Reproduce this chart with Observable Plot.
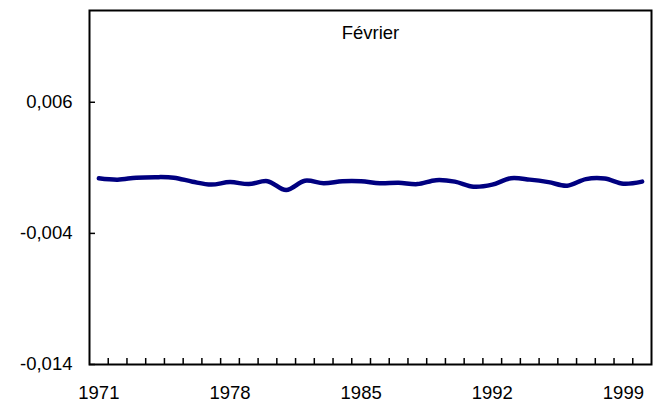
<!DOCTYPE html>
<html>
<head>
<meta charset="utf-8">
<script src="https://cdn.jsdelivr.net/npm/d3@7"></script>
<script src="https://cdn.jsdelivr.net/npm/@observablehq/plot@0.6"></script>
<style>
  html, body { margin: 0; padding: 0; background: #fff; }
  #chart svg { display: block; }
</style>
</head>
<body>
<div id="chart"></div>
<script>
// Monthly series for February, 1971–2000
const years = d3.range(1971, 2001);
const values = [
  0.00021, 0.00010, 0.00025, 0.00029, 0.00025, -0.00006, -0.00028, -0.00009, -0.00024, -0.00002,
  -0.00070, 0.00002, -0.00017, -0.00002, -0.00002, -0.00017, -0.00013, -0.00024, 0.00006, -0.00005,
  -0.00044, -0.00028, 0.00021, 0.00010, -0.00009, -0.00036, 0.00014, 0.00018, -0.00021, -0.00005
];
const yTicks = [-0.014, -0.004, 0.006];
const xTicks = [1971, 1978, 1985, 1992, 1999];
const title = ["Février"];

const data = years.map((year, i) => ({year, value: values[i]}));
// category boundaries between consecutive years
const boundaries = years.slice(1).map(y => y - 0.5);

const fr = d3.formatLocale({decimal: ",", thousands: " ", grouping: [3], currency: ["", " €"], minus: "-"});
const fmt = fr.format(".3f");

const width = 662, height = 413;
const margin = {top: 10, right: 11, bottom: 49, left: 89};
const innerW = width - margin.left - margin.right;
const innerH = height - margin.top - margin.bottom;

const chart = Plot.plot({
  width, height,
  marginTop: margin.top, marginRight: margin.right,
  marginBottom: margin.bottom, marginLeft: margin.left,
  style: {fontFamily: "'Liberation Sans', Arial, Helvetica, sans-serif", fontSize: "18.5px", color: "#000", background: "#fff"},
  x: {type: "linear", domain: [years[0] - 0.5, years[years.length - 1] + 0.5], label: null},
  y: {domain: [-0.014, 0.013], label: null},
  marks: [
    Plot.axisX(xTicks, {tickSize: 0, tickPadding: 21, tickFormat: d => String(d), fill: "#000", label: null}),
    Plot.axisY(yTicks, {tickSize: 0, tickPadding: 17, tickFormat: fmt, fill: "#000", label: null}),
    // inward tick marks
    Plot.ruleX(boundaries, {stroke: "#000", strokeWidth: 1.5, insetTop: innerH - 6}),
    Plot.ruleY(yTicks, {stroke: "#000", strokeWidth: 1.5, insetRight: innerW - 6}),
    Plot.line(data, {x: "year", y: "value", stroke: "#000080", strokeWidth: 4.5, curve: "catmull-rom", strokeLinecap: "round"}),
    Plot.text(title, {frameAnchor: "top", lineAnchor: "middle", dy: 23, text: d => d, fill: "#000"}),
    Plot.frame({stroke: "#000", strokeWidth: 2})
  ]
});
document.getElementById("chart").appendChild(chart);
</script>
</body>
</html>
